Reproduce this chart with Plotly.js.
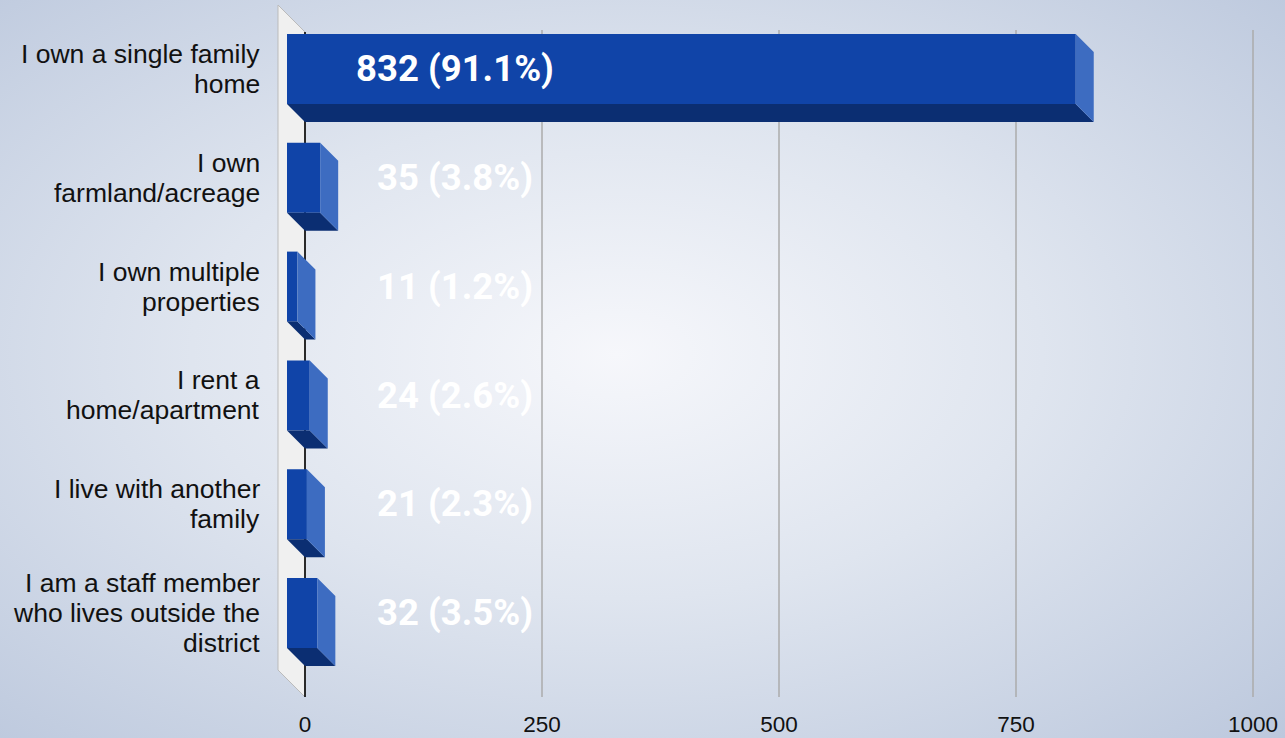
<!DOCTYPE html>
<html>
<head>
<meta charset="utf-8">
<script src="https://cdn.plot.ly/plotly-3.0.1.min.js"></script>
<style>
html,body{margin:0;padding:0;}
body{width:1285px;height:738px;overflow:hidden;
background:radial-gradient(ellipse farthest-corner at 48% 48%, #f6f7fb 0%, #dfe5ef 45%, #bcc8dd 100%);}
#chart{width:1285px;height:738px;}
</style>
</head>
<body>
<div id="chart"></div>
<script>
// ---- data ----
const categories = [
  "I own a single family<br>home",
  "I own<br>farmland/acreage",
  "I own multiple<br>properties",
  "I rent a<br>home/apartment",
  "I live with another<br>family",
  "I am a staff member<br>who lives outside the<br>district"
];
const values = [832, 35, 11, 24, 21, 32];
const percents = ["91.1%", "3.8%", "1.2%", "2.6%", "2.3%", "3.5%"];
const xTicks = [0, 250, 500, 750, 1000];

// ---- geometry (styles / projection) ----
const W = 1285, H = 738;
const mL = 270, mR = 23, mT = 0, mB = 38;
const plotW = W - mL - mR, plotH = H - mT - mB;
const kx = 0.948;           // px per value unit
const ky = 108.8;           // px per category step
const zeroPx = 305 - mL;    // zero position inside plot (px)
const firstPx = 87 - mT;    // first category back center (px)
const xRange = [-zeroPx / kx, (plotW - zeroPx) / kx];
const yRange = [(plotH - firstPx) / ky, -firstPx / ky]; // reversed
const depthX = 18 / kx, depthY = 18 / ky;
const halfH = 35 / ky;
const wallDX = 27 / kx, wallDY = 27 / ky;
const backTop = (30 - 87) / ky, backBot = (697 - 87) / ky;
const wallTop = (32 - 87) / ky;

const idx = categories.map((_, i) => i);
const frontY = idx.map(i => i - depthY);

function path(pts) {
  return 'M' + pts.map(p => p[0] + ',' + p[1]).join('L') + 'Z';
}

// side + bottom faces
const sx = [], sy = [], bx = [], by = [];
values.forEach((v, i) => {
  const fTop = i - depthY - halfH, fBot = i - depthY + halfH;
  sx.push(v - depthX, v, v, v - depthX, v - depthX, null);
  sy.push(fTop, fTop + depthY, fBot + depthY, fBot, fTop, null);
  bx.push(-depthX, v - depthX, v, 0, -depthX, null);
  by.push(fBot, fBot, fBot + depthY, fBot + depthY, fBot, null);
});
const side = {type: 'scatter', mode: 'lines', fill: 'toself', hoverinfo: 'skip',
  x: sx, y: sy, fillcolor: '#3d6cc1', line: {width: 0, color: '#3d6cc1'}};
const bottom = {type: 'scatter', mode: 'lines', fill: 'toself', hoverinfo: 'skip',
  x: bx, y: by, fillcolor: '#0b2e72', line: {width: 0, color: '#0b2e72'}};
const front = {type: 'bar', orientation: 'h', x: values, y: frontY, base: -depthX,
  width: 2 * halfH, marker: {color: '#1044a8', line: {width: 0}}, hoverinfo: 'skip'};
const labelX = (455 - 305) / kx;
const labels = {type: 'scatter', mode: 'text', hoverinfo: 'skip',
  x: idx.map(() => labelX), y: frontY.map(y => y + 3 / ky),
  text: values.map((v, i) => v + ' (' + percents[i] + ')'),
  textposition: 'middle center', cliponaxis: false,
  textfont: {family: 'Roboto', size: 36.5, color: '#ffffff', weight: 700}};

const shapes = xTicks.filter(t => t > 0).map(t => ({
  type: 'line', layer: 'below', xref: 'x', yref: 'y',
  x0: t, x1: t, y0: backTop, y1: backBot,
  line: {color: '#ababab', width: 1.5}
}));
// side wall
shapes.push({type: 'path', layer: 'below', xref: 'x', yref: 'y',
  path: path([[0, wallTop], [0, backBot], [-wallDX, backBot - wallDY], [-wallDX, wallTop - wallDY]]),
  fillcolor: '#f0f0f0', line: {color: '#bbbbbb', width: 1}});
// zero axis line
shapes.push({type: 'line', layer: 'below', xref: 'x', yref: 'y',
  x0: 0, x1: 0, y0: wallTop, y1: backBot, line: {color: '#2a2a2a', width: 2}});

// category labels, one annotation per line for tight line spacing
const annotations = [];
const lineGap = 30;
categories.forEach((c, i) => {
  const lines = c.split('<br>');
  lines.forEach((t, k) => {
    annotations.push({xref: 'paper', yref: 'y', x: (262 - mL) / plotW, y: frontY[i],
      xanchor: 'right', yanchor: 'middle', showarrow: false, text: t,
      yshift: -((k - (lines.length - 1) / 2) * lineGap),
      font: {family: 'Liberation Sans', size: 26.5, color: '#111111'}});
  });
});

const layout = {
  width: W, height: H,
  margin: {l: mL, r: mR, t: mT, b: mB},
  paper_bgcolor: 'rgba(0,0,0,0)', plot_bgcolor: 'rgba(0,0,0,0)',
  showlegend: false, barmode: 'overlay',
  xaxis: {range: xRange, tickvals: xTicks, ticktext: xTicks.map(String),
    showgrid: false, zeroline: false, showline: false,
    ticks: 'outside', ticklen: 4, tickcolor: 'rgba(0,0,0,0)',
    tickfont: {family: 'Liberation Sans', size: 22.5, color: '#111111'}},
  yaxis: {range: yRange, showticklabels: false,
    showgrid: false, zeroline: false, showline: false},
  shapes: shapes,
  annotations: annotations
};

Plotly.newPlot('chart', [bottom, side, front, labels], layout,
  {displayModeBar: false, staticPlot: true});
</script>
</body>
</html>
